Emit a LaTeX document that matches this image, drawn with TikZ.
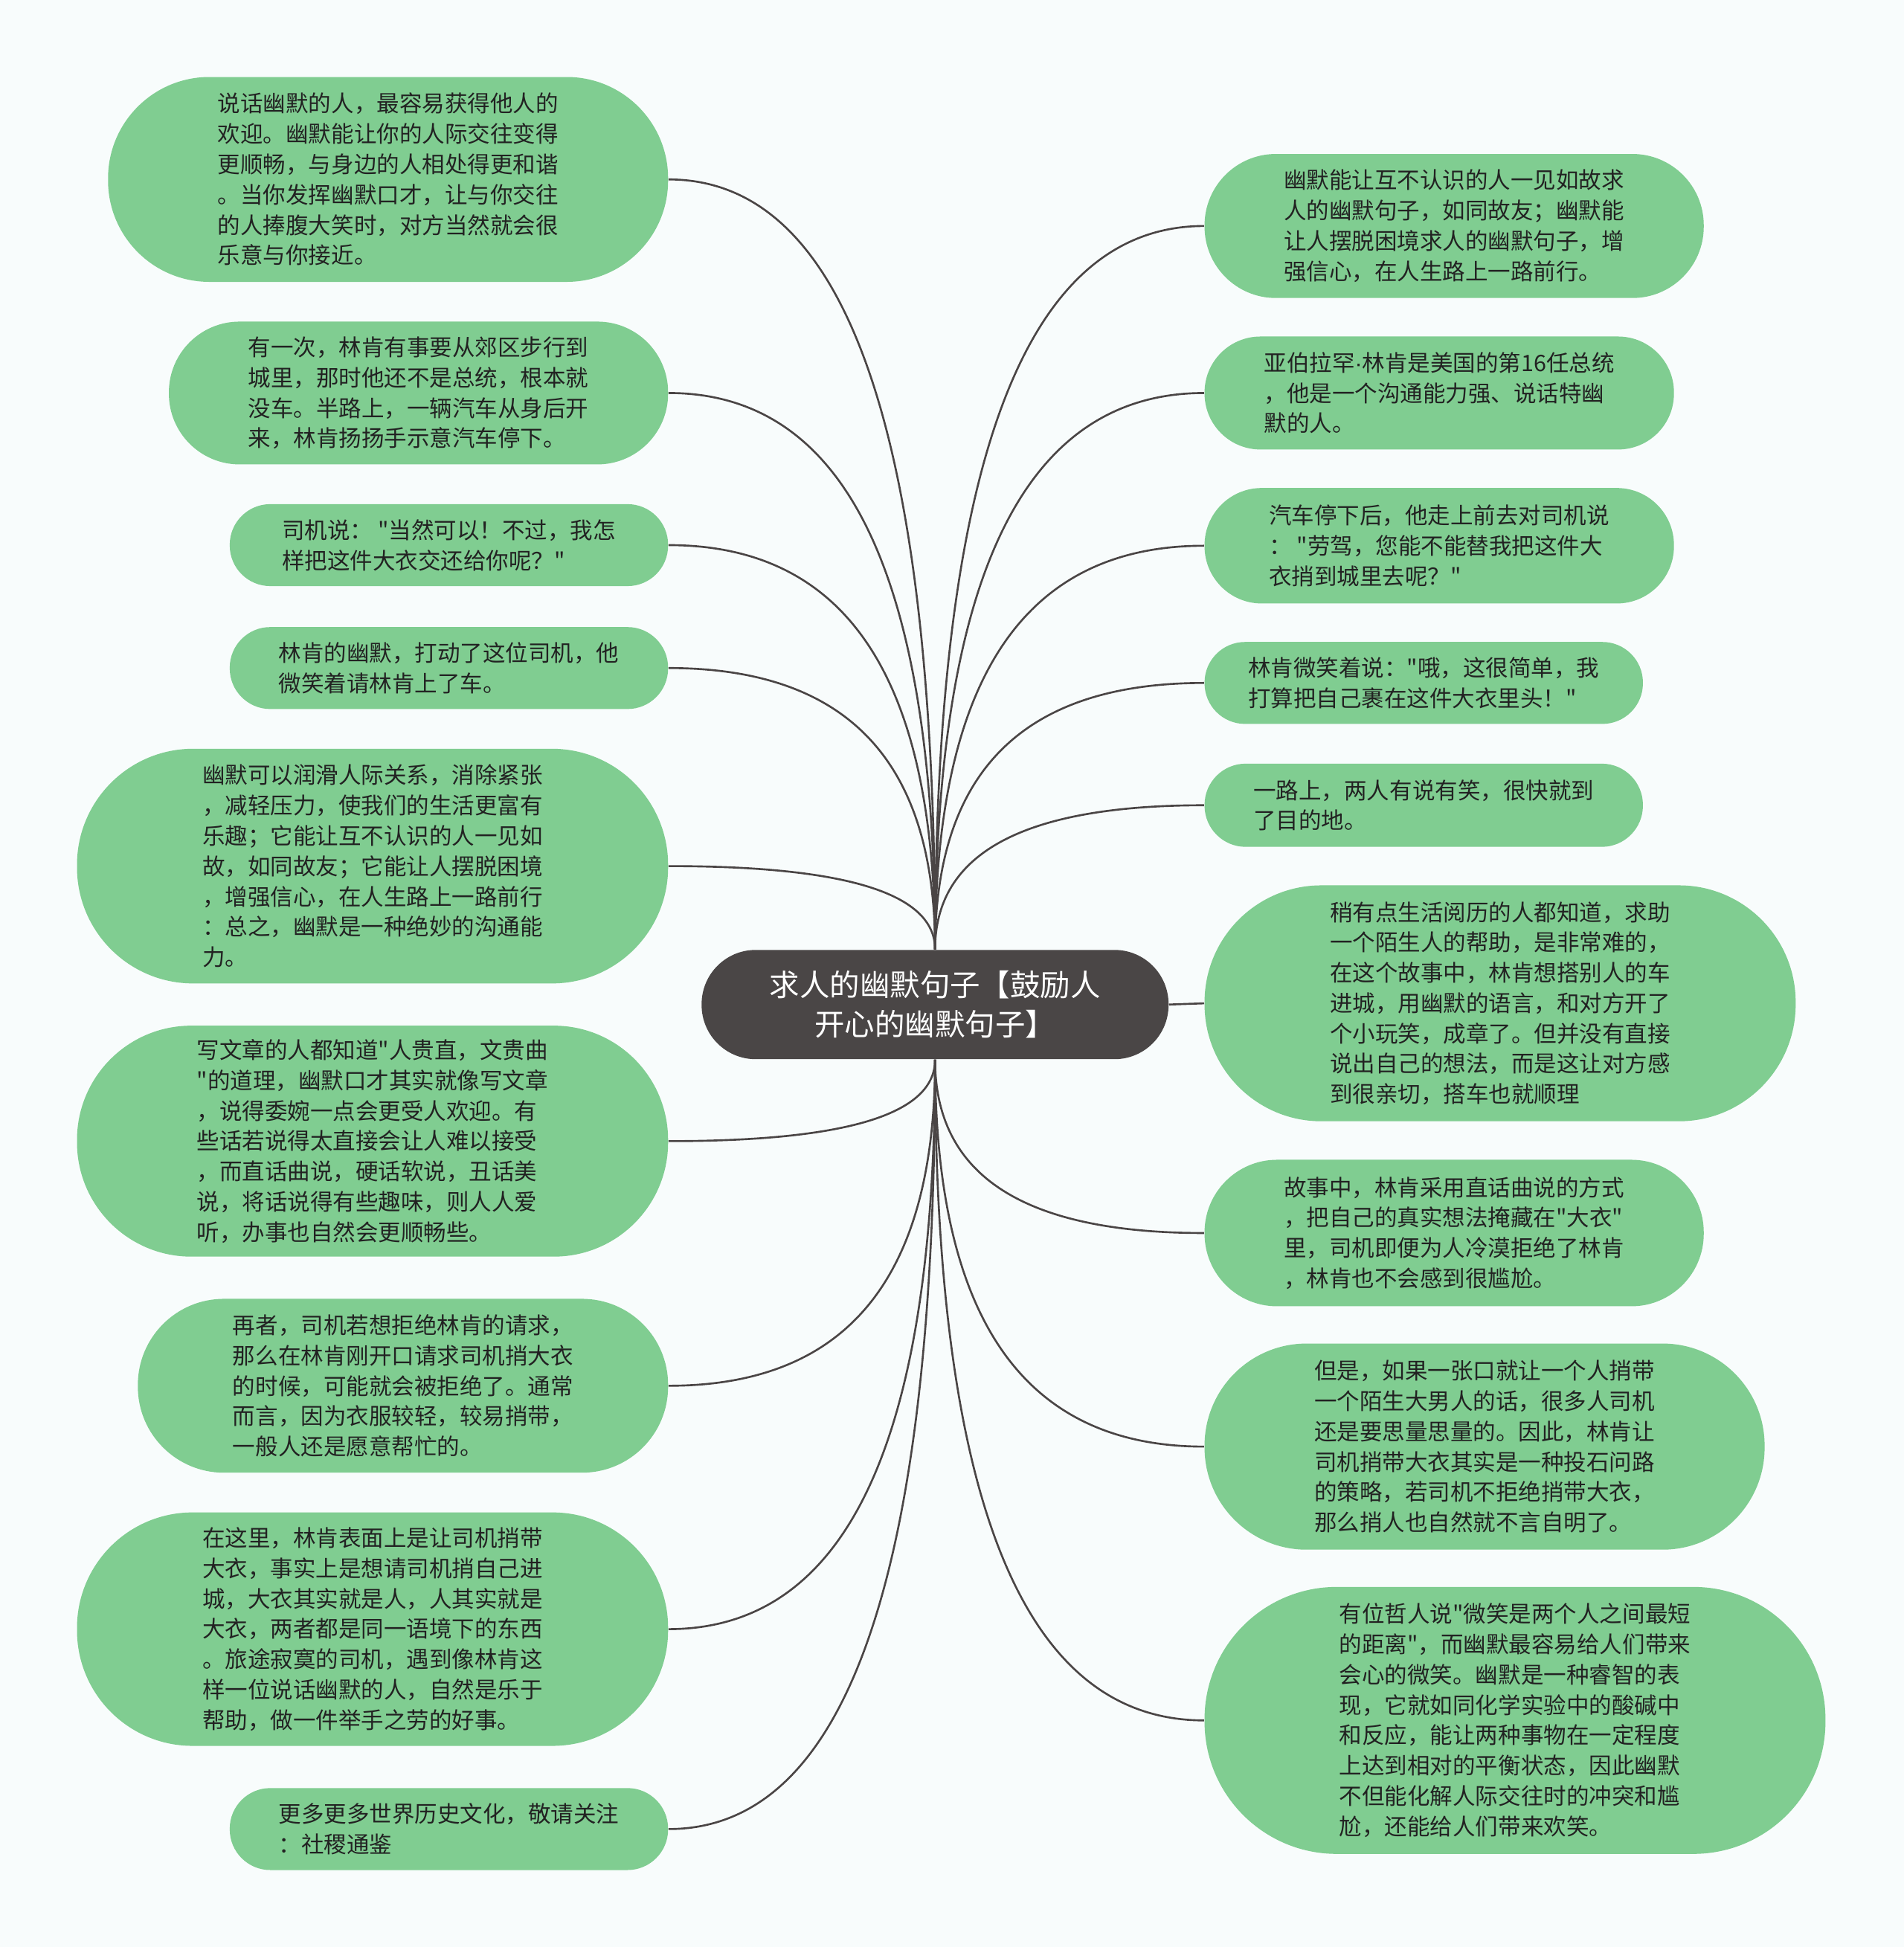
\documentclass[tikz,border=0pt]{standalone}
\usepackage{fontspec}
\newfontfamily\cjkfont{Noto Sans CJK SC}
\newfontfamily\latinfont{Liberation Sans}
\usepackage{tikz}
\usetikzlibrary{calc,backgrounds}
\definecolor{leafgreen}{HTML}{80CD91}
\definecolor{rootgray}{HTML}{4A4646}
\definecolor{linkgray}{HTML}{4A4545}
\definecolor{paper}{HTML}{F8FCFC}
\definecolor{inkdark}{HTML}{222222}
\tikzset{
  % noder
  leaf/.style 2 args={rectangle,fill=leafgreen,text=inkdark,align=left,inner sep=0pt,
             minimum width=#1*0.02cm,minimum height=#2*0.02cm,
             rounded corners=#2*0.0099cm,font=\cjkfont\fontsize{10.4}{13.9}\selectfont},
  root/.style={rectangle,fill=rootgray,text=white,align=center,inner sep=0pt,
             minimum width=376*0.02cm,minimum height=88*0.02cm,
             rounded corners=88*0.0099cm,font=\cjkfont\fontsize{13.8}{18.1}\selectfont},
  % grenar
  link/.style={draw=linkgray,line width=0.9pt},
  twig/.style={to path={.. controls ($(\tikztostart)!0.67!(\tikztostart |- \tikztotarget)$)
             and ($(\tikztotarget)!0.67!(\tikztostart |- \tikztotarget)$) .. (\tikztotarget)}},
}
\begin{document}
\begin{tikzpicture}[x=0.02cm,y=-0.02cm]
  \useasboundingbox (0,0) rectangle (1533,1568);
  \begin{scope}[on background layer]
  \fill[paper] (0,0) rectangle (1533,1568);
  \end{scope}
  \node[root] (c) at (753,809) {求人的幽默句子【鼓励人\\开心的幽默句子】};
  % links
  \node[leaf={451}{165}] (l1) at (312.5,144.5) {说话幽默的人，最容易获得他人的\\欢迎。幽默能让你的人际交往变得\\更顺畅，与身边的人相处得更和谐\\。当你发挥幽默口才，让与你交往\\的人捧腹大笑时，对方当然就会很\\乐意与你接近。};
  \node[leaf={402}{115}] (l2) at (337,316.5) {有一次，林肯有事要从郊区步行到\\城里，那时他还不是总统，根本就\\没车。半路上，一辆汽车从身后开\\来，林肯扬扬手示意汽车停下。};
  \node[leaf={353}{66}] (l3) at (361.5,439) {司机说： "当然可以！不过，我怎\\样把这件大衣交还给你呢？"};
  \node[leaf={353}{66}] (l4) at (361.5,538) {林肯的幽默，打动了这位司机，他\\微笑着请林肯上了车。};
  \node[leaf={476}{189}] (l5) at (300,697.5) {幽默可以润滑人际关系，消除紧张\\，减轻压力，使我们的生活更富有\\乐趣；它能让互不认识的人一见如\\故，如同故友；它能让人摆脱困境\\，增强信心，在人生路上一路前行\\：总之，幽默是一种绝妙的沟通能\\力。};
  \node[leaf={476}{186}] (l6) at (300,919) {写文章的人都知道"人贵直，文贵曲\\"的道理，幽默口才其实就像写文章\\，说得委婉一点会更受人欢迎。有\\些话若说得太直接会让人难以接受\\，而直话曲说，硬话软说，丑话美\\说，将话说得有些趣味，则人人爱\\听，办事也自然会更顺畅些。};
  \node[leaf={427}{140}] (l7) at (324.5,1116) {再者，司机若想拒绝林肯的请求，\\那么在林肯刚开口请求司机捎大衣\\的时候，可能就会被拒绝了。通常\\而言，因为衣服较轻，较易捎带，\\一般人还是愿意帮忙的。};
  \node[leaf={476}{188}] (l8) at (300,1312) {在这里，林肯表面上是让司机捎带\\大衣，事实上是想请司机捎自己进\\城，大衣其实就是人，人其实就是\\大衣，两者都是同一语境下的东西\\。旅途寂寞的司机，遇到像林肯这\\样一位说话幽默的人，自然是乐于\\帮助，做一件举手之劳的好事。};
  \node[leaf={353}{66}] (l9) at (361.5,1473) {更多更多世界历史文化，敬请关注\\：社稷通鉴};
  % rechts
  \node[leaf={402}{116}] (r1) at (1171,182) {幽默能让互不认识的人一见如故求\\人的幽默句子，如同故友；幽默能\\让人摆脱困境求人的幽默句子，增\\强信心，在人生路上一路前行。};
  \node[leaf={378}{91}] (r2) at (1159,316.5) {亚伯拉罕{\latinfont ·}林肯是美国的第16任总统\\，他是一个沟通能力强、说话特幽\\默的人。};
  \node[leaf={378}{93}] (r3) at (1159,439.5) {汽车停下后，他走上前去对司机说\\： "劳驾，您能不能替我把这件大\\衣捎到城里去呢？"};
  \node[leaf={353}{66}] (r4) at (1146.5,550) {林肯微笑着说："哦，这很简单，我\\打算把自己裹在这件大衣里头！"};
  \node[leaf={353}{67}] (r5) at (1146.5,648.5) {一路上，两人有说有笑，很快就到\\了目的地。};
  \node[leaf={476}{190}] (r6) at (1208,808) {稍有点生活阅历的人都知道，求助\\一个陌生人的帮助，是非常难的，\\在这个故事中，林肯想搭别人的车\\进城，用幽默的语言，和对方开了\\个小玩笑，成章了。但并没有直接\\说出自己的想法，而是这让对方感\\到很亲切，搭车也就顺理};
  \node[leaf={402}{118}] (r7) at (1171,993) {故事中，林肯采用直话曲说的方式\\，把自己的真实想法掩藏在"大衣"\\里，司机即便为人冷漠拒绝了林肯\\，林肯也不会感到很尴尬。};
  \node[leaf={451}{166}] (r8) at (1195.5,1165) {但是，如果一张口就让一个人捎带\\一个陌生大男人的话，很多人司机\\还是要思量思量的。因此，林肯让\\司机捎带大衣其实是一种投石问路\\的策略，若司机不拒绝捎带大衣，\\那么捎人也自然就不言自明了。};
  \node[leaf={500}{215}] (r9) at (1220,1385.5) {有位哲人说"微笑是两个人之间最短\\的距离"，而幽默最容易给人们带来\\会心的微笑。幽默是一种睿智的表\\现，它就如同化学实验中的酸碱中\\和反应，能让两种事物在一定程度\\上达到相对的平衡状态，因此幽默\\不但能化解人际交往时的冲突和尴\\尬，还能给人们带来欢笑。};
  \begin{scope}[on background layer]
  \foreach \n in {l1,l2,l3,l4,l5} \draw[link,twig] (c.north) to (\n.east);
  \foreach \n in {l6,l7,l8,l9} \draw[link,twig] (c.south) to (\n.east);
  \foreach \n in {r1,r2,r3,r4,r5} \draw[link,twig] (c.north) to (\n.west);
  \foreach \n in {r7,r8,r9} \draw[link,twig] (c.south) to (\n.west);
  \draw[link] (c.east) -- (r6.west);
  \end{scope}
\end{tikzpicture}
\end{document}
